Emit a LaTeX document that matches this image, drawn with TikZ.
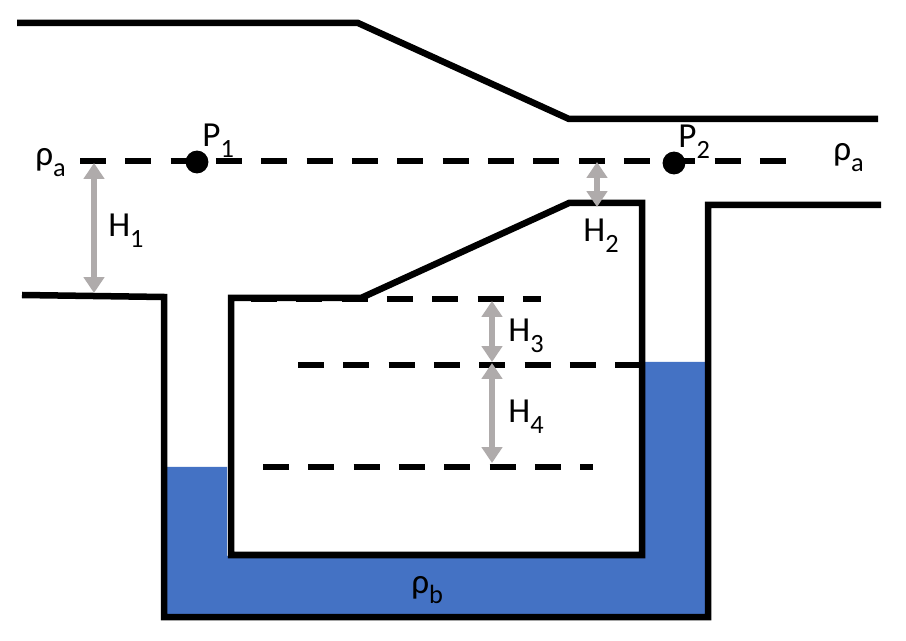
\documentclass[tikz,border=0pt]{standalone}
\usepackage{fontspec}
\setmainfont{Carlito}
\usetikzlibrary{arrows.meta}
\definecolor{water}{RGB}{68,114,196}
\definecolor{arrowgray}{RGB}{175,171,171}
\newcommand{\lowsub}[1]{\raisebox{-5.7pt}{\fontsize{15pt}{15pt}\selectfont #1}}
\tikzset{
  x=0.02cm,y=-0.02cm,
  wall/.style={line width=3.7pt,black,line join=miter},
  level/.style={line width=3.7pt,black,dash pattern=on 14.8pt off 11pt},
  measure/.style={line width=3.1pt,arrowgray,{Triangle[width=11.4pt,length=9pt]}-{Triangle[width=11.4pt,length=9pt]}},
  lbl/.style={font=\fontsize{20pt}{22pt}\selectfont,inner sep=0pt,text=black,anchor=base west},
  probe/.style={circle,fill=black,inner sep=0pt,minimum size=13pt}
}
\begin{document}
\begin{tikzpicture}
\useasboundingbox (0,0) rectangle (906,641);
\fill[white] (0,0) rectangle (906,641);
% water
\fill[water] (165,467) -- (227,467) -- (227,556) -- (642,556) -- (642,362) -- (708,362) -- (708,616) -- (165,616) -- cycle;
% walls
\draw[wall] (17,23) -- (358,23) -- (569,119) -- (878,119);
\draw[wall] (22,295) -- (164,297) -- (164,617) -- (708,617) -- (708,205) -- (881,205);
\draw[wall] (569,203) -- (642,203) -- (642,555) -- (231,555) -- (231,298) -- (361,298) -- cycle;
% levels
\coordinate (la) at (80,161); \coordinate (lb) at (786,161);
\coordinate (c1a) at (251,299); \coordinate (c1b) at (541,299);
\coordinate (c2a) at (298,365); \coordinate (c2b) at (642,365);
\coordinate (c3a) at (263,467); \coordinate (c3b) at (593,467);
\draw[level] (la) -- (lb);
\draw[level] (c1a) -- (c1b);
\draw[level] (c2a) -- (c2b);
\draw[level] (c3a) -- (c3b);
% points
\node[probe] (p1) at (197,162) {};
\node[probe] (p2) at (674,163) {};
% arrows
\coordinate (h1a) at (94,163); \coordinate (h1b) at (94,293);
\coordinate (h2a) at (597,162); \coordinate (h2b) at (597,207);
\coordinate (h3a) at (492,301); \coordinate (h3b) at (492,362);
\coordinate (h4a) at (492,363); \coordinate (h4b) at (492,463);
\draw[measure] (h1a) -- (h1b);
\draw[measure] (h2a) -- (h2b);
\draw[measure] (h3a) -- (h3b);
\draw[measure] (h4a) -- (h4b);
% labels
\node[lbl] (t1) at (35,166) {ρ\lowsub{a}};
\node[lbl] (t2) at (833,161) {ρ\lowsub{a}};
\node[lbl] (t3) at (202,147) {P\lowsub{1}};
\node[lbl] (t4) at (678,148) {P\lowsub{2}};
\node[lbl] (t5) at (108,237) {H\lowsub{1}};
\node[lbl] (t6) at (583,242) {H\lowsub{2}};
\node[lbl] (t7) at (508,342) {H\lowsub{3}};
\node[lbl] (t8) at (508,423) {H\lowsub{4}};
\node[lbl] (t9) at (411,593) {ρ\lowsub{b}};
\end{tikzpicture}
\end{document}
